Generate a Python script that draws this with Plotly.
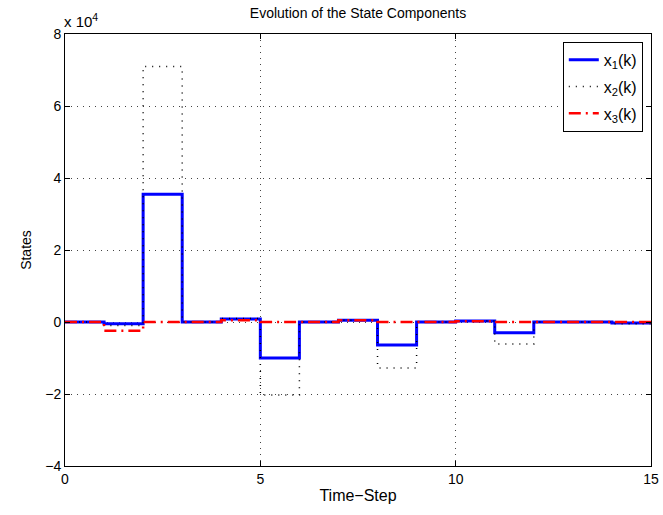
import plotly.graph_objects as go

# Time steps (stairs, value at k held until k+1)
k = list(range(16))
# State values in units of 1e4
x1 = [0.0, -0.05, 3.55, 0.0, 0.08, -1.0, 0.0, 0.05, -0.64, 0.0, 0.03, -0.3, 0.0, 0.0, -0.03, -0.03]
x2 = [0.0, -0.1, 7.1, 0.0, 0.1, -2.03, 0.0, 0.05, -1.28, 0.0, 0.03, -0.61, 0.0, 0.0, -0.05, -0.05]
x3 = [0.0, -0.24, 0.0, 0.0, 0.05, 0.0, 0.0, 0.05, 0.0, 0.0, 0.02, 0.0, 0.0, 0.0, 0.0, 0.0]
names = ["x<sub>1</sub>(k)", "x<sub>2</sub>(k)", "x<sub>3</sub>(k)"]
xticks = [0, 5, 10, 15]
yticks = [-4, -2, 0, 2, 4, 6, 8]
yticktext = ["\u22124", "\u22122", "0", "2", "4", "6", "8"]

font = "Liberation Sans, Arial, Helvetica, sans-serif"
fig = go.Figure()
fig.add_trace(go.Scatter(x=k, y=x1, mode="lines", line_shape="hv", name=names[0], legendgroup="a",
                         line=dict(color="#0000ff", width=3)))
fig.add_trace(go.Scatter(x=k, y=x2, mode="lines", line_shape="hv", name=names[1], legendgroup="b",
                         line=dict(color="black", width=1.5, dash="1px,6px")))
fig.add_trace(go.Scatter(x=k, y=x3, mode="lines", line_shape="hv", name=names[2], legendgroup="c",
                         line=dict(color="#ff0000", width=2.5, dash="12px,5px,2px,5px")))

axis_common = dict(showline=True, linecolor="black", linewidth=1, mirror="ticks",
                   ticks="inside", ticklen=5, tickcolor="black", automargin=False,
                   showgrid=True, gridcolor="#444444", griddash="1px,5px", gridwidth=1,
                   zeroline=False, tickfont=dict(size=14, color="black", family=font))
fig.update_xaxes(range=[0, 15], tickvals=xticks, title=dict(text="Time\u2212Step", standoff=4,
                 font=dict(size=16, color="black", family=font)), **axis_common)
fig.update_yaxes(range=[-4, 8], tickvals=yticks, ticktext=yticktext,
                 title=dict(text="States", standoff=10, font=dict(size=14, color="black", family=font)),
                 **axis_common)

fig.update_layout(
    width=663, height=515,
    margin=dict(l=65, r=12, t=34, b=49),
    plot_bgcolor="white", paper_bgcolor="white",
    font=dict(family=font, size=14, color="black"),
    title=dict(text="Evolution of the State Components", x=0.54, xanchor="center",
               y=0.985, yanchor="top", font=dict(size=14)),
    legend=dict(x=0.986, y=0.982, xanchor="right", yanchor="top",
                bordercolor="black", borderwidth=1, bgcolor="white",
                font=dict(size=16), tracegroupgap=3),
    showlegend=True,
    annotations=[dict(text="x 10<sup>4</sup>", xref="paper", yref="paper", x=0.0, y=1.0,
                      xanchor="left", yanchor="bottom", showarrow=False,
                      font=dict(size=15), xshift=-3, yshift=2)],
)
fig.write_html("out.html")
